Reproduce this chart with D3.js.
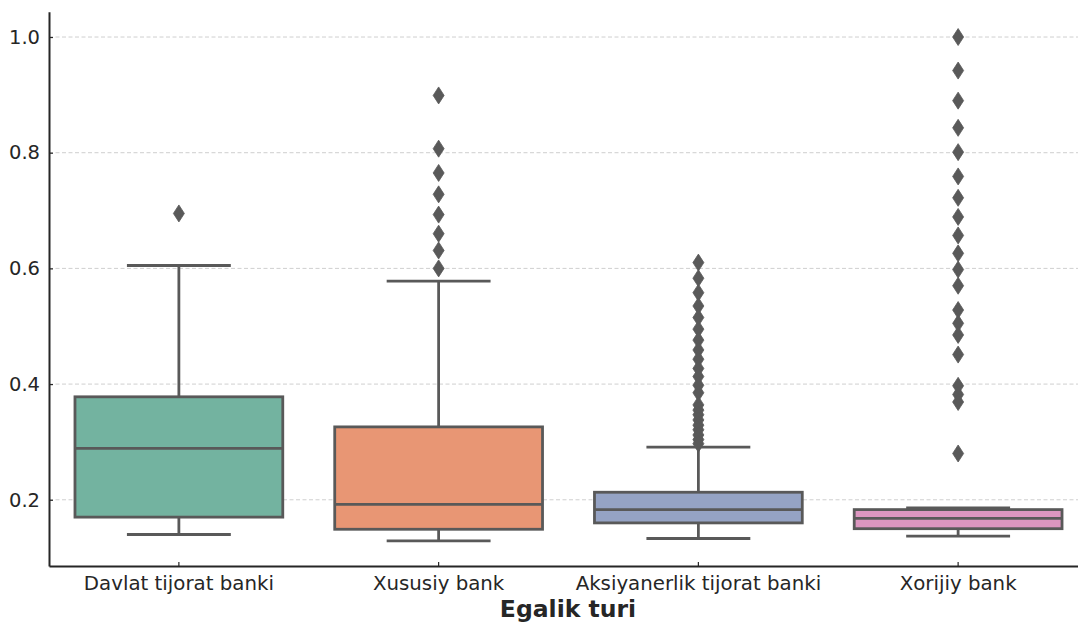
<!DOCTYPE html>
<html>
<head>
<meta charset="utf-8">
<script src="https://cdn.jsdelivr.net/npm/d3@7/dist/d3.min.js"></script>
<style>
  html, body { margin: 0; padding: 0; background: #ffffff; }
  svg { display: block; }
  text { font-family: "DejaVu Sans", sans-serif; fill: #262626; }
</style>
</head>
<body>
<svg id="chart" width="1078" height="623"></svg>
<script>
// ---- data ----
const categories = ["Davlat tijorat banki", "Xususiy bank", "Aksiyanerlik tijorat banki", "Xorijiy bank"];
const whiskerLow  = [0.140, 0.129, 0.133, 0.137];
const q1          = [0.170, 0.149, 0.160, 0.150];
const medians     = [0.289, 0.192, 0.183, 0.168];
const q3          = [0.378, 0.326, 0.213, 0.183];
const whiskerHigh = [0.605, 0.578, 0.291, 0.186];
const outliersDavlat = [0.695];
const outliersXususiy = [0.899, 0.807, 0.765, 0.728, 0.693, 0.660, 0.631, 0.600];
const outliersAksiya = [0.610, 0.583, 0.558, 0.535, 0.515, 0.495, 0.476, 0.459, 0.443, 0.427,
                        0.413, 0.398, 0.385, 0.364, 0.355, 0.347, 0.338, 0.329, 0.321, 0.312, 0.304, 0.297];
const outliersXorijiy = [1.000, 0.942, 0.890, 0.843, 0.801, 0.759, 0.722, 0.689, 0.657, 0.626,
                         0.598, 0.570, 0.528, 0.505, 0.485, 0.451, 0.397, 0.382, 0.369, 0.280];
const outliers = [outliersDavlat, outliersXususiy, outliersAksiya, outliersXorijiy];
const yTicks = [0.2, 0.4, 0.6, 0.8, 1.0];
const colors = ["#73b3a0", "#e89674", "#95a3c4", "#dc96c0"];
const xLabel = "Egalik turi";

(function () {
  const svg = d3.select("#chart");
  const mLeft = 49, mRight = 1088, mTop = 11.8, mBottom = 566;
  const lineColor = "#595959";
  const lw = 2.8;

  const x = d3.scaleBand().domain(categories).range([mLeft, mRight]).paddingInner(0).paddingOuter(0);
  const y = d3.scaleLinear().domain([0.0855, 1.0436]).range([mBottom, mTop]);

  // grid
  svg.append("g").selectAll("line").data(yTicks).join("line")
    .attr("x1", mLeft).attr("x2", 1078)
    .attr("y1", d => y(d)).attr("y2", d => y(d))
    .attr("stroke", "#cfcfcf").attr("stroke-width", 1)
    .attr("stroke-dasharray", "4,2.5");

  const bw = x.bandwidth();
  const boxW = bw * 0.8;
  const capW = boxW * 0.5;

  const data = categories.map((c, i) => ({
    c, i, lo: whiskerLow[i], q1: q1[i], med: medians[i], q3: q3[i], hi: whiskerHigh[i], out: outliers[i]
  }));

  const g = svg.append("g");
  data.forEach(d => {
    const cx = x(d.c) + bw / 2;
    const gg = g.append("g");
    gg.append("rect")
      .attr("x", cx - boxW / 2).attr("width", boxW)
      .attr("y", y(d.q3)).attr("height", y(d.q1) - y(d.q3))
      .attr("fill", colors[d.i]).attr("stroke", lineColor).attr("stroke-width", lw);
    gg.append("line").attr("x1", cx).attr("x2", cx).attr("y1", y(d.q1)).attr("y2", y(d.lo))
      .attr("stroke", lineColor).attr("stroke-width", lw);
    gg.append("line").attr("x1", cx).attr("x2", cx).attr("y1", y(d.q3)).attr("y2", y(d.hi))
      .attr("stroke", lineColor).attr("stroke-width", lw);
    [d.lo, d.hi].forEach(v => {
      gg.append("line").attr("x1", cx - capW / 2).attr("x2", cx + capW / 2)
        .attr("y1", y(v)).attr("y2", y(v))
        .attr("stroke", lineColor).attr("stroke-width", lw);
    });
    gg.append("line").attr("x1", cx - boxW / 2).attr("x2", cx + boxW / 2)
      .attr("y1", y(d.med)).attr("y2", y(d.med))
      .attr("stroke", lineColor).attr("stroke-width", lw);
    const w = 11, h = 17;
    gg.selectAll("path.flier").data(d.out).join("path")
      .attr("class", "flier")
      .attr("d", v => `M${cx},${y(v) - h / 2}L${cx + w / 2},${y(v)}L${cx},${y(v) + h / 2}L${cx - w / 2},${y(v)}Z`)
      .attr("fill", lineColor).attr("stroke", lineColor).attr("stroke-width", 0.8);
  });

  const yAxis = d3.axisLeft(y).tickValues(yTicks).tickFormat(d3.format(".1f")).tickSizeInner(-4).tickSizeOuter(0).tickPadding(9);
  const ya = svg.append("g").attr("transform", `translate(${mLeft},0)`).call(yAxis);
  ya.select(".domain").attr("stroke", "#262626").attr("stroke-width", 2);
  ya.selectAll(".tick line").attr("stroke", "#262626").attr("stroke-width", 1.2);
  ya.selectAll(".tick text").attr("font-size", "19.5px").attr("fill", "#262626")
    .attr("font-family", "DejaVu Sans, sans-serif");

  const xAxis = d3.axisBottom(x).tickSizeInner(-4).tickSizeOuter(0).tickPadding(10);
  const xa = svg.append("g").attr("transform", `translate(0,${mBottom})`).call(xAxis);
  xa.select(".domain").attr("stroke", "#262626").attr("stroke-width", 2);
  xa.selectAll(".tick line").attr("stroke", "#262626").attr("stroke-width", 1.2);
  xa.selectAll(".tick text").attr("font-size", "19.8px").attr("fill", "#262626")
    .attr("font-family", "DejaVu Sans, sans-serif");

  svg.append("text")
    .attr("x", 568).attr("y", 617)
    .attr("text-anchor", "middle")
    .attr("font-size", "23.5px").attr("font-weight", "bold")
    .text(xLabel);
})();
</script>
</body>
</html>
